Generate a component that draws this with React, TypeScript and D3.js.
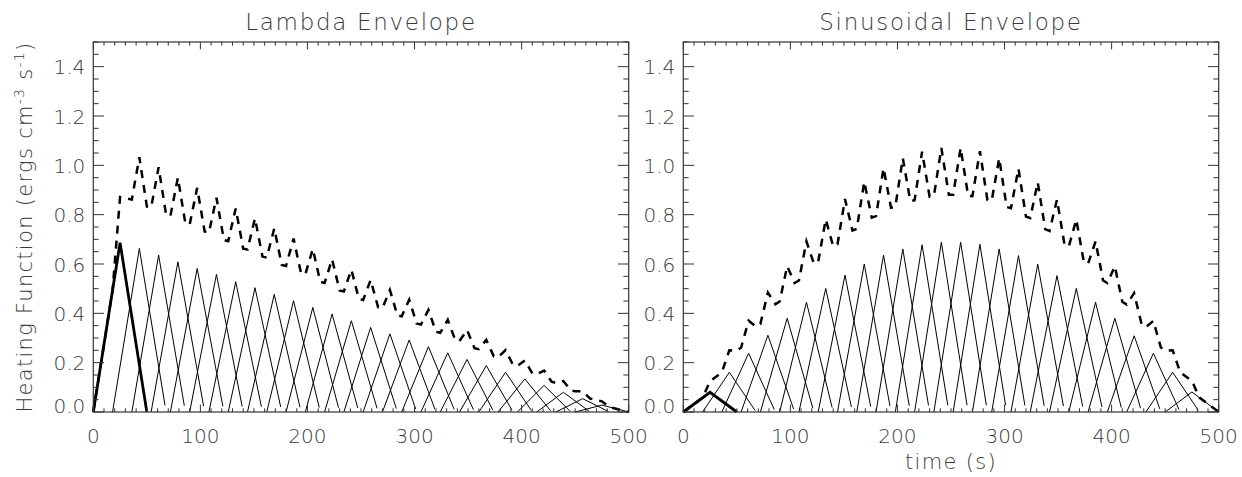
import React from "react";
import * as d3 from "d3";

// ---- data ----
const startTimes = [0, 18, 36, 54, 72, 90, 108, 126, 144, 162, 180, 198, 216, 234, 252, 270, 288, 306, 324, 342, 360, 378, 396, 414, 432, 450];
const lambdaPeaks = [0.686, 0.663, 0.636, 0.609, 0.582, 0.558, 0.528, 0.504, 0.477, 0.451, 0.424, 0.397, 0.370, 0.343, 0.317, 0.292, 0.265, 0.240, 0.213, 0.188, 0.161, 0.134, 0.108, 0.080, 0.054, 0.028];
const sinePeaks = [0.080, 0.161, 0.238, 0.311, 0.380, 0.445, 0.501, 0.555, 0.600, 0.636, 0.661, 0.678, 0.688, 0.688, 0.680, 0.661, 0.634, 0.599, 0.553, 0.501, 0.445, 0.380, 0.309, 0.238, 0.161, 0.081];
const RISE = 25; // s to peak
const SPAN = 50; // full duration of an event (s)
const THIN_LAST = 49; // last sample of thin event curves (s after start)
const xTickValues = [0, 100, 200, 300, 400, 500];
const xTickLabels = ["0", "100", "200", "300", "400", "500"];
const yTickValues = [0, 0.2, 0.4, 0.6, 0.8, 1.0, 1.2, 1.4];
const yTickLabels = ["0.0", "0.2", "0.4", "0.6", "0.8", "1.0", "1.2", "1.4"];
const titles = ["Lambda Envelope", "Sinusoidal Envelope"];

const FONT = "'DejaVu Sans', sans-serif";
const TXT = "#3a3a3a";
const AX = "#333";
const FW = 200;

function tri(t: number, s: number, h: number) {
  if (t <= s || t >= s + SPAN) return 0;
  if (t <= s + RISE) return (h * (t - s)) / RISE;
  return (h * (s + SPAN - t)) / (SPAN - RISE);
}

function Panel({ x0, x1, peaks, title, showXLabel, showYLabel }: any) {
  const yTop = 42, yBot = 412;
  const x = d3.scaleLinear().domain([0, 500]).range([x0, x1]);
  const y = d3.scaleLinear().domain([0, 1.5]).range([yBot, yTop]);
  const line = d3.line<[number, number]>().x((d) => x(d[0])).y((d) => y(d[1]));

  const thin = startTimes.slice(1).map((s, i) => {
    const h = peaks[i + 1];
    const pts: [number, number][] = [
      [s, 0],
      [s + RISE, h],
      [s + THIN_LAST, tri(s + THIN_LAST, s, h)],
    ];
    return line(pts.filter((p) => p[0] <= 500));
  });
  const thick = line([
    [startTimes[0], 0],
    [startTimes[0] + RISE, peaks[0]],
    [startTimes[0] + SPAN, 0],
  ]);
  const bps = new Set<number>([0, 500]);
  startTimes.forEach((s) => {
    [s, s + RISE, s + SPAN].forEach((b) => { if (b >= 0 && b <= 500) bps.add(b); });
  });
  const sorted = Array.from(bps).sort((a, b) => a - b);
  const sumPts: [number, number][] = sorted.map((t) => [t, startTimes.reduce((acc, s, i) => acc + tri(t, s, peaks[i]), 0)]);
  const sumPath = line(sumPts);

  const xMinor = d3.range(0, 501, 10);
  const yMinor = d3.range(0, 31).map((i) => i * 0.05);
  const xMajLen = 7.4, xMinLen = 3.7, yMajLen = 10.7, yMinLen = 5.3;

  return (
    <g>
      <g fill="none" stroke="#000">
        {thin.map((d, i) => <path key={i} d={d as string} strokeWidth={1} />)}
        <path d={thick as string} strokeWidth={2.8} strokeLinejoin="miter" />
        <path d={sumPath as string} strokeWidth={2.5} strokeDasharray="8 7" />
      </g>
      <rect x={x0} y={yTop} width={x1 - x0} height={yBot - yTop} fill="none" stroke={AX} strokeWidth={1.2} />
      <g stroke={AX} strokeWidth={1}>
        {xMinor.map((v) => {
          const major = v % 100 === 0;
          const L = major ? xMajLen : xMinLen;
          return (
            <g key={"x" + v}>
              <line x1={x(v)} x2={x(v)} y1={yBot} y2={yBot - L} />
              <line x1={x(v)} x2={x(v)} y1={yTop} y2={yTop + L} />
            </g>
          );
        })}
        {yMinor.map((v, i) => {
          const major = i % 4 === 0;
          const L = major ? yMajLen : yMinLen;
          return (
            <g key={"y" + i}>
              <line x1={x0} x2={x0 + L} y1={y(v)} y2={y(v)} />
              <line x1={x1} x2={x1 - L} y1={y(v)} y2={y(v)} />
            </g>
          );
        })}
      </g>
      <g fill={TXT} fontFamily={FONT} fontSize={20} fontWeight={FW}>
        {xTickValues.map((v, i) => (
          <text key={"xl" + i} x={x(v)} y={443} textAnchor="middle">{xTickLabels[i]}</text>
        ))}
        {yTickValues.map((v, i) => (
          <text key={"yl" + i} x={x0 - 8} y={Math.min(y(v) + 7.5, yBot + 1)} textAnchor="end">{yTickLabels[i]}</text>
        ))}
      </g>
      <text x={(x0 + x1) / 2} y={30} textAnchor="middle" fill={TXT} fontFamily={FONT} fontWeight={FW} fontSize={23} letterSpacing={1.7}>{title}</text>
      {showXLabel && (
        <text x={(x0 + x1) / 2} y={469} textAnchor="middle" fill={TXT} fontFamily={FONT} fontWeight={FW} fontSize={21} letterSpacing={1.3}>time (s)</text>
      )}
      {showYLabel && (
        <text transform={`translate(32,${(yTop + yBot) / 2}) rotate(-90)`} textAnchor="middle" fill={TXT} fontFamily={FONT} fontWeight={FW} fontSize={21} letterSpacing={1.3}>
          Heating Function (ergs cm<tspan dy={-8} fontSize={14}>-3</tspan><tspan dy={8}> s</tspan><tspan dy={-8} fontSize={14}>-1</tspan><tspan dy={8}>)</tspan>
        </text>
      )}
    </g>
  );
}

export default function App() {
  return (
    <svg width={1242} height={477} style={{ position: "absolute", left: 0, top: 0, background: "#fff" }}>
      <rect width={1242} height={477} fill="#fff" />
      <Panel x0={93.3} x1={628.7} peaks={lambdaPeaks} title={titles[0]} showXLabel={false} showYLabel={true} />
      <Panel x0={683.3} x1={1218.7} peaks={sinePeaks} title={titles[1]} showXLabel={true} showYLabel={false} />
    </svg>
  );
}
